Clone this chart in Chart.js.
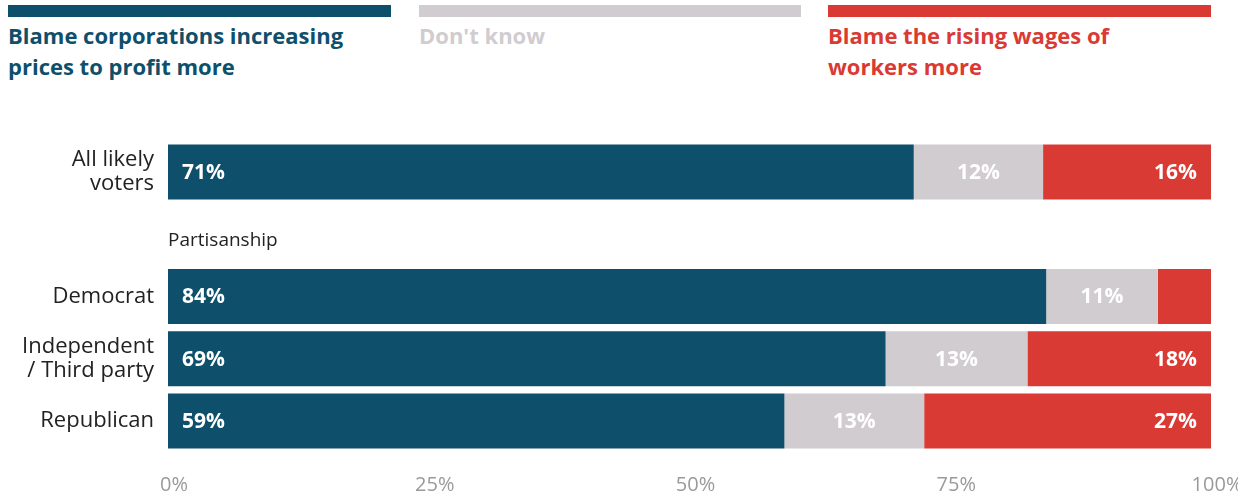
<!DOCTYPE html>
<html>
<head>
<meta charset="utf-8">
<script src="https://cdn.jsdelivr.net/npm/chart.js@4.4.1/dist/chart.umd.min.js"></script>
<style>
  body { margin: 0; background: #fff; font-family: "Open Sans", sans-serif; }
  #wrap { position: relative; width: 1238px; height: 493px; }
  .key { position: absolute; top: 5px; }
  .key .bar { height: 12px; }
  .key .txt { font-weight: 700; font-size: 22px; line-height: 31px; margin-top: 3px; }
  canvas { position: absolute; left: 0; top: 0; }
</style>
</head>
<body>
<div id="wrap">
  <div id="legend"></div>
  <canvas id="chart" width="1238" height="493"></canvas>
</div>
<script>
// categories (blank row holds the "Partisanship" heading)
const categories = [['All likely', 'voters'], '', 'Democrat', ['Independent', '/ Third party'], 'Republican'];
const sectionHeading = 'Partisanship';

// series values (percent of respondents)
const corporations = [71.5, null, 84.2, 68.8, 59.1];
const dontKnow = [12.4, null, 10.7, 13.6, 13.4];
const wages = [16.1, null, 5.1, 17.6, 27.5];

// printed labels on the bars
const corporationsLabels = ['71%', '', '84%', '69%', '59%'];
const dontKnowLabels = ['12%', '', '11%', '13%', '13%'];
const wagesLabels = ['16%', '', '', '18%', '27%'];

const seriesNames = ['Blame corporations increasing prices to profit more', "Don't know", 'Blame the rising wages of workers more'];
const seriesColors = ['#0e4f6b', '#d0ccd0', '#d93a34'];
const tickLabels = ['0%', '25%', '50%', '75%', '100%'];

// html legend on top
const legendPos = [{ left: 8, width: 383, textWidth: 370 }, { left: 419, width: 382, textWidth: 360 }, { left: 828, width: 383, textWidth: 330 }];
const legendEl = document.getElementById('legend');
seriesNames.forEach((name, i) => {
  const k = document.createElement('div');
  k.className = 'key';
  k.style.left = legendPos[i].left + 'px';
  k.style.width = legendPos[i].width + 'px';
  k.innerHTML = '<div class="bar" style="background:' + seriesColors[i] + '"></div>' +
    '<div class="txt" style="color:' + seriesColors[i] + ';width:' + legendPos[i].textWidth + 'px">' + name + '</div>';
  legendEl.appendChild(k);
});

const labelSets = [corporationsLabels, dontKnowLabels, wagesLabels];

// white labels inside the bars + section heading
const barLabels = {
  id: 'barLabels',
  afterDatasetsDraw(chart) {
    const ctx = chart.ctx;
    ctx.save();
    ctx.font = '700 21px "Open Sans", sans-serif';
    ctx.fillStyle = '#fff';
    ctx.textBaseline = 'middle';
    chart.data.datasets.forEach((ds, di) => {
      const meta = chart.getDatasetMeta(di);
      meta.data.forEach((bar, i) => {
        const txt = labelSets[di][i];
        if (!txt) return;
        const left = Math.min(bar.x, bar.base);
        const right = Math.max(bar.x, bar.base);
        if (di === 0) {
          ctx.textAlign = 'left';
          ctx.fillText(txt, left + 14, bar.y + 1);
        } else if (di === 1) {
          ctx.textAlign = 'center';
          ctx.fillText(txt, (left + right) / 2, bar.y + 1);
        } else {
          ctx.textAlign = 'right';
          ctx.fillText(txt, right - 14, bar.y + 1);
        }
      });
    });
    // heading in the empty row
    const y = chart.scales.y.getPixelForValue(1);
    ctx.font = '19px "Open Sans", sans-serif';
    ctx.fillStyle = '#222';
    ctx.textAlign = 'left';
    ctx.fillText(sectionHeading, chart.chartArea.left, y + 6);
    ctx.restore();
  }
};

new Chart(document.getElementById('chart'), {
  type: 'bar',
  data: {
    labels: categories,
    datasets: [
      { label: seriesNames[0], data: corporations, backgroundColor: seriesColors[0] },
      { label: seriesNames[1], data: dontKnow, backgroundColor: seriesColors[1] },
      { label: seriesNames[2], data: wages, backgroundColor: seriesColors[2] }
    ]
  },
  options: {
    indexAxis: 'y',
    responsive: false,
    animation: false,
    layout: { padding: { top: 141, right: 27, left: 0, bottom: 0 } },
    datasets: { bar: { categoryPercentage: 1, barPercentage: 0.885 } },
    plugins: {
      legend: { display: false },
      tooltip: { enabled: false }
    },
    scales: {
      x: {
        stacked: true,
        min: 0,
        max: 100,
        grid: { display: false, drawTicks: false },
        border: { display: false },
        afterFit: (scale) => { scale.height = 41; scale.paddingLeft = 0; scale.paddingRight = 0; },
        ticks: {
          stepSize: 25,
          padding: 21,
          labelOffset: 6,
          color: '#9a9a9a',
          font: { family: '"Open Sans", sans-serif', size: 20 },
          callback: (v, i) => tickLabels[i]
        }
      },
      y: {
        stacked: true,
        grid: { display: false, drawTicks: false },
        border: { display: false },
        afterFit: (scale) => { scale.width = 168; },
        ticks: {
          padding: 14,
          color: '#222',
          font: { family: '"Open Sans", sans-serif', size: 22, lineHeight: 1.1 }
        }
      }
    }
  },
  plugins: [barLabels]
});
</script>
</body>
</html>
